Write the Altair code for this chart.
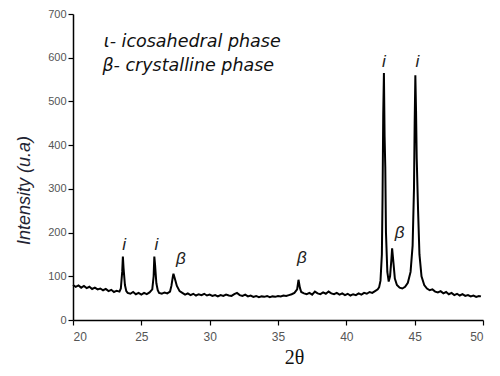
import altair as alt
import pandas as pd

two_theta = [
    20.0, 20.2, 20.4, 20.6, 20.8, 21.0, 21.2, 21.4, 21.6, 21.8, 22.0, 22.2, 22.4, 22.6, 22.8,
    23.0, 23.2, 23.4, 23.5, 23.6, 23.65, 23.7, 23.8, 23.9, 24.0, 24.2, 24.4, 24.6, 24.8,
    25.0, 25.2, 25.4, 25.6, 25.8, 25.9, 25.95, 26.0, 26.1, 26.2, 26.3, 26.5, 26.7, 26.9,
    27.1, 27.2, 27.3, 27.35, 27.45, 27.6, 27.8, 28.0, 28.2, 28.4, 28.6, 28.8, 29.0, 29.2,
    29.4, 29.6, 29.8, 30.0, 30.2, 30.4, 30.6, 30.8, 31.0, 31.2, 31.4, 31.6, 31.8, 32.0,
    32.2, 32.4, 32.6, 32.8, 33.0, 33.2, 33.4, 33.6, 33.8, 34.0, 34.2, 34.4, 34.6, 34.8,
    35.0, 35.2, 35.4, 35.6, 35.8, 36.0, 36.2, 36.4, 36.5, 36.6, 36.7, 36.9, 37.1, 37.3,
    37.5, 37.7, 37.9, 38.1, 38.3, 38.5, 38.7, 38.9, 39.1, 39.3, 39.5, 39.7, 39.9, 40.1,
    40.3, 40.5, 40.7, 40.9, 41.1, 41.3, 41.5, 41.7, 41.9, 42.1, 42.3, 42.4, 42.5, 42.6,
    42.65, 42.7, 42.75, 42.8, 42.85, 42.9, 43.0, 43.1, 43.2, 43.3, 43.35, 43.45, 43.55,
    43.7, 43.9, 44.1, 44.3, 44.5, 44.7, 44.85, 44.95, 45.0, 45.05, 45.1, 45.15, 45.25,
    45.35, 45.5, 45.7, 45.9, 46.1, 46.3, 46.5, 46.7, 46.9, 47.1, 47.3, 47.5, 47.7, 47.9,
    48.1, 48.3, 48.5, 48.7, 48.9, 49.1, 49.3, 49.5, 49.7, 49.85,
]
intensity = [
    80, 76, 79, 74, 78, 73, 76, 71, 74, 70, 72, 68, 71, 66, 69,
    64, 67, 65, 72, 110, 145, 118, 80, 66, 62, 60, 64, 59, 62,
    58, 62, 59, 63, 70, 100, 145, 128, 84, 68, 62, 60, 63, 61,
    65, 78, 98, 106, 95, 78, 66, 62, 58, 61, 57, 60, 56, 59,
    57, 60, 56, 58, 55, 57, 54, 57, 55, 58, 56, 55, 59, 62,
    57, 55, 58, 54, 56, 53, 55, 52, 54, 53, 55, 52, 54, 53,
    55, 54, 56, 55, 57, 59, 62, 70, 92, 74, 64, 61, 59, 62,
    58, 65, 61, 59, 63, 60, 65, 61, 59, 62, 58, 61, 57, 60,
    56, 59, 57, 61, 58, 62, 60, 64, 62, 66, 70, 75, 90, 150,
    280, 470, 565, 420, 350, 200, 110, 88, 100, 140, 164, 130, 95,
    80, 74, 72, 76, 85, 110, 170, 300, 450, 560, 480, 370, 250,
    150, 100, 80, 72, 68, 70, 65, 63, 66, 61, 64, 59, 62, 57,
    60, 56, 59, 55, 57, 54, 56, 53, 55, 54,
]

label_text = ["i", "i", "β", "β", "i", "β", "i"]
label_x = [23.75, 26.1, 27.9, 36.75, 42.75, 43.9, 45.2]
label_y = [172, 172, 140, 142, 590, 198, 590]

legend_text = ["ι- icosahedral phase", "β- crystalline phase"]
legend_x = [22.25, 22.15]
legend_y = [636, 582]

x_ticks = [20, 22.5, 25, 27.5, 30, 32.5, 35, 37.5, 40, 42.5, 45, 47.5, 50]
y_ticks = [0, 50, 100, 150, 200, 250, 300, 350, 400, 450, 500, 550, 600, 650, 700]

spec = pd.DataFrame({"two_theta": two_theta, "intensity": intensity})
labels = pd.DataFrame({"t": label_text, "x": label_x, "y": label_y})
legend = pd.DataFrame({"t": legend_text, "x": legend_x, "y": legend_y})

xscale = alt.Scale(domain=[20, 50], nice=False, zero=False)
yscale = alt.Scale(domain=[0, 700], nice=False)

line = alt.Chart(spec).mark_line(color="black", strokeWidth=2).encode(
    x=alt.X("two_theta:Q", scale=xscale,
            axis=alt.Axis(values=x_ticks, title="2θ",
                          labelExpr="datum.value % 5 === 0 ? datum.label : ''",
                          tickSize={"expr": "datum.value % 5 === 0 ? 5 : 3"},
                          labelPadding=6, labelFontSize=12,
                          titleFont="Liberation Serif", titleFontSize=20,
                          titleFontWeight="normal", titleColor="#111",
                          titleX=221, titleY=43, titleBaseline="alphabetic")),
    y=alt.Y("intensity:Q", scale=yscale,
            axis=alt.Axis(values=y_ticks, title="Intensity (u.a)",
                          labelExpr="datum.value % 100 === 0 ? datum.label : ''",
                          tickSize={"expr": "datum.value % 100 === 0 ? 5 : 3"},
                          labelPadding=2, labelFontSize=11,
                          titleFont="Liberation Sans", titleFontSize=18,
                          titleFontStyle="italic", titleFontWeight="normal",
                          titleColor="#1f2433", titleX=-49, titleY=176,
                          titleBaseline="middle", titleAlign="center", titleAngle=-90)),
)

peak_labels = alt.Chart(labels).mark_text(
    font="Liberation Sans", fontStyle="italic", fontSize=17, color="#222",
    baseline="middle", align="center",
).encode(x="x:Q", y="y:Q", text="t:N")

legend_labels = alt.Chart(legend).mark_text(
    font="DejaVu Sans", fontStyle="italic", fontSize=17.5, color="#111",
    baseline="middle", align="left",
).encode(x="x:Q", y="y:Q", text="t:N")

chart = alt.layer(line, peak_labels, legend_labels).properties(
    width=410, height=306,
    autosize=alt.AutoSizeParams(type="none"),
    padding={"left": 65, "top": 6, "right": 9, "bottom": 48},
).configure_view(stroke=None).configure_axis(
    grid=False, domainColor="black", domainWidth=1.5, tickColor="black",
    tickWidth=1.2, labelColor="#555", labelFont="Liberation Sans",
)

chart.save("out.html", embed_options={"renderer": "svg", "actions": False})
